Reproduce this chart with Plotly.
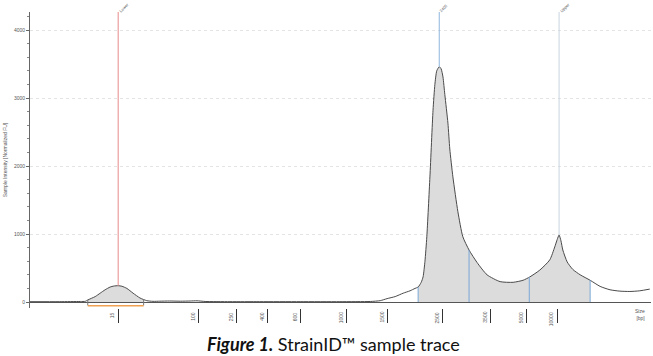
import numpy as np
import plotly.graph_objects as go

# ---- data (mobility units, arbitrary; intensity in normalized FU) ----
mobility = [0.0, 4.8, 8.1, 8.9, 9.3, 10.5, 11.3, 12.1, 12.9, 13.5, 14.2, 14.8, 15.6, 16.6,
            17.7, 18.8, 19.8, 20.9, 22.5, 24.2, 25.8, 26.9, 28.2, 32.2, 37.0, 43.5, 49.9,
            54.8, 56.4, 57.5, 58.8, 60.1, 61.2, 62.0, 62.5, 63.0, 63.3, 63.6, 63.9, 64.4,
            64.9, 65.2, 65.5, 65.9, 66.2, 66.5, 66.8, 67.3, 67.6, 68.1, 68.9, 69.7, 70.7,
            72.0, 73.6, 75.7, 77.8, 79.4, 80.5, 82.1, 83.7, 84.5, 84.9, 85.2, 85.5, 85.8,
            86.5, 87.4, 88.6, 90.2, 91.8, 93.4, 95.0, 96.6, 98.2, 99.8]
intensity = [5, 5, 8, 10, 30, 80, 130, 180, 220, 235, 240, 232, 200, 130,
             60, 20, 10, 12, 15, 12, 15, 18, 8, 5, 5, 5, 5,
             8, 20, 50, 80, 130, 165, 200, 220, 290, 370, 600, 960, 1840,
             2820, 3200, 3400, 3460, 3430, 3310, 3050, 2630, 2250, 1840, 1330, 960, 765,
             580, 400, 300, 290, 320, 370, 470, 620, 810, 920, 985, 900, 765,
             590, 480, 400, 320, 230, 180, 160, 155, 165, 190]

tick_sizes = ["15", "100", "250", "400", "600", "1000", "1500", "2500", "3500", "5000", "10000"]
tick_mobility = [14.2, 27.1, 33.3, 38.2, 43.6, 51.0, 57.5, 66.5, 74.1, 80.0, 84.9]

lower_range = [9.3, 18.3]
peak_labels = ["Lower", "2405", "Upper"]
peak_mobility = [14.2, 65.9, 85.2]
region_bounds = [62.5, 70.7, 80.4, 90.2]

mob = np.array(mobility, dtype=float)
inten = np.array(intensity, dtype=float)

fig = go.Figure()

SMOOTH = 0.6


def fill_between(a, b):
    xs = np.concatenate([[a], mob[(mob > a) & (mob < b)], [b]])
    ys = np.interp(xs, mob, inten)
    return xs, ys


for a, b in [(lower_range[0], lower_range[1]), (region_bounds[0], region_bounds[-1])]:
    xs, ys = fill_between(a, b)
    fig.add_trace(go.Scatter(x=xs, y=ys, mode="lines",
                             line=dict(width=0, shape="spline", smoothing=SMOOTH),
                             fill="tozeroy", fillcolor="#dcdcdc", hoverinfo="skip",
                             showlegend=False))

# main trace
fig.add_trace(go.Scatter(x=mobility, y=intensity, mode="lines",
                         line=dict(color="#4a4a4a", width=1, shape="spline", smoothing=SMOOTH),
                         showlegend=False))

# region boundary lines
for b in region_bounds:
    fig.add_trace(go.Scatter(x=[b, b], y=[0, float(np.interp(b, mob, inten))], mode="lines",
                             line=dict(color="#7aa7d6", width=1), showlegend=False))
for b in lower_range:
    fig.add_trace(go.Scatter(x=[b, b], y=[-50, float(np.interp(b, mob, inten))], mode="lines",
                             line=dict(color="#777777", width=1), showlegend=False))

# orange lower-marker bar
fig.add_trace(go.Scatter(x=lower_range, y=[-55, -55], mode="lines",
                         line=dict(color="#f0a050", width=1.5), showlegend=False))

# peak marker lines
peak_colors = ["#e88a8a", "#8db6dd", "#c8d4e0"]
for pm, col in zip(peak_mobility, peak_colors):
    fig.add_trace(go.Scatter(x=[pm, pm], y=[float(np.interp(pm, mob, inten)), 4265], mode="lines",
                             line=dict(color=col, width=1), showlegend=False))

annotations = []
for lab, pm in zip(peak_labels, peak_mobility):
    annotations.append(dict(x=pm, y=1.0, xref="x", yref="paper", text=lab, showarrow=False,
                            textangle=-45, xanchor="left", yanchor="bottom", xshift=-3, yshift=-4,
                            font=dict(size=4, color="#555555", family="Liberation Sans")))
for lab, tm in zip(tick_sizes, tick_mobility):
    annotations.append(dict(x=tm, y=0, xref="x", yref="paper", text=lab, showarrow=False,
                            textangle=-90, xanchor="right", yanchor="top", xshift=-1, yshift=-2,
                            font=dict(size=5, color="#555555", family="Liberation Sans")))
annotations.append(dict(x=1.0, y=0, xref="paper", yref="paper", text="Size<br>[bp]",
                        showarrow=False, xanchor="right", yanchor="top", yshift=2, xshift=-4,
                        align="right", font=dict(size=5, color="#555555", family="Liberation Sans")))
annotations.append(dict(x=0.488, y=-0.12, xref="paper", yref="paper",
                        text="<b><i>Figure 1.</i></b> StrainID™ sample trace",
                        showarrow=False, xanchor="center", yanchor="middle",
                        font=dict(size=18, color="#111111", family="Lato")))

fig.update_layout(
    width=653, height=356,
    margin=dict(l=30, r=2, t=12, b=48),
    paper_bgcolor="white", plot_bgcolor="white",
    annotations=annotations,
    xaxis=dict(range=[0, 100], showgrid=False, zeroline=False, showline=False,
               tickvals=tick_mobility, ticks="outside", ticklen=14, tickwidth=1,
               tickcolor="#333333", showticklabels=False),
    yaxis=dict(range=[-88, 4265], tickvals=[0, 1000, 2000, 3000, 4000],
               ticks="outside", ticklen=3, tickcolor="#666666",
               tickfont=dict(size=5, color="#555555", family="Liberation Sans"),
               showline=True, linecolor="#666666", linewidth=1,
               showgrid=True, gridcolor="#e4e4e4", griddash="dot",
               zeroline=True, zerolinecolor="#555555", zerolinewidth=1,
               minor=dict(dtick=200, ticks="outside", ticklen=2, tickcolor="#888888", showgrid=False),
               title=dict(text="Sample Intensity [Normalized FU]", standoff=6,
                          font=dict(size=5, color="#555555", family="Liberation Sans"))),
)

fig.write_html("out.html")
